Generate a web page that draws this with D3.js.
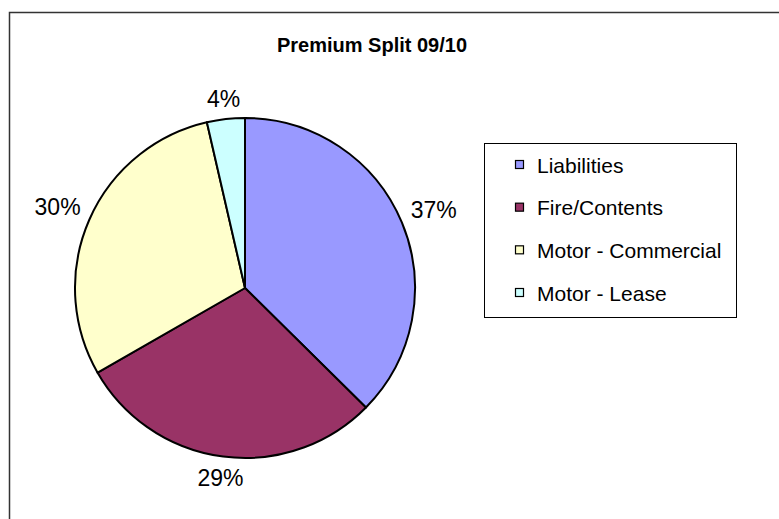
<!DOCTYPE html>
<html>
<head>
<meta charset="utf-8">
<script src="https://cdn.jsdelivr.net/npm/d3@7"></script>
<style>
  body { margin: 0; background: #fff; }
  text { font-family: Arial, "Liberation Sans", sans-serif; }
</style>
</head>
<body>
<div id="chart"></div>
<script>
// data
var categories = ["Liabilities", "Fire/Contents", "Motor - Commercial", "Motor - Lease"];
var shares = [37.4, 29.3, 29.7, 3.6];
var labels = ["37%", "29%", "30%", "4%"];
var colors = ["#9999FF", "#993366", "#FFFFCC", "#CCFFFF"];
var title = "Premium Split 09/10";

var WIDTH = 779, HEIGHT = 519;
var CX = 245, CY = 288, R = 170;

var svg = d3.select("#chart").append("svg")
    .attr("width", WIDTH)
    .attr("height", HEIGHT);

// chart area border (runs off the right and bottom)
svg.append("rect")
    .attr("x", 9.5).attr("y", 12.5)
    .attr("width", 820).attr("height", 560)
    .attr("fill", "none")
    .attr("stroke", "#333")
    .attr("stroke-width", 1.5);

svg.append("text")
    .attr("x", 372).attr("y", 52)
    .attr("text-anchor", "middle")
    .style("font-size", "20px")
    .style("font-weight", "bold")
    .text(title);

var pie = d3.pie().sort(null).value(function (d) { return d; });
var arcs = pie(shares);
var arc = d3.arc().innerRadius(0).outerRadius(R);

var g = svg.append("g").attr("transform", "translate(" + CX + "," + CY + ")");

g.selectAll("path")
    .data(arcs)
    .enter().append("path")
    .attr("d", arc)
    .attr("fill", function (d, i) { return colors[i]; })
    .attr("stroke", "#000")
    .attr("stroke-width", 2)
    .attr("stroke-linejoin", "round");

// labels outside the slices, pushed out by half the text box
g.selectAll("text.lbl")
    .data(arcs)
    .enter().append("text")
    .attr("class", "lbl")
    .attr("text-anchor", "middle")
    .style("font-size", "23px")
    .text(function (d, i) { return labels[i]; })
    .each(function (d) {
        var a = (d.startAngle + d.endAngle) / 2;
        var w = this.getComputedTextLength(), h = 17;
        var s = Math.sin(a), c = Math.cos(a);
        var rr = R + 10 + Math.abs(s) * w / 2 + Math.abs(c) * h / 2;
        d3.select(this)
            .attr("x", rr * s)
            .attr("y", -rr * c + h / 2);
    });

// legend
var legend = svg.append("g");
legend.append("rect")
    .attr("x", 484.5).attr("y", 143.5)
    .attr("width", 252).attr("height", 174)
    .attr("fill", "#fff")
    .attr("stroke", "#000")
    .attr("stroke-width", 1);

var rowY = d3.scalePoint().domain(categories).range([165, 293]);

var item = legend.selectAll("g.item")
    .data(categories)
    .enter().append("g")
    .attr("class", "item")
    .attr("transform", function (d) { return "translate(0," + rowY(d) + ")"; });

item.append("rect")
    .attr("x", 515.5).attr("y", -4.5)
    .attr("width", 8).attr("height", 8)
    .attr("fill", function (d, i) { return colors[i]; })
    .attr("stroke", "#000")
    .attr("stroke-width", 1.2);

item.append("text")
    .attr("x", 537).attr("y", 7.5)
    .style("font-size", "21px")
    .text(function (d) { return d; });
</script>
</body>
</html>
